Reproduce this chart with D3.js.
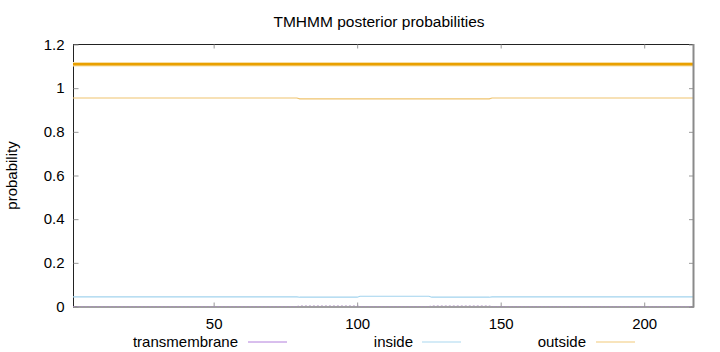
<!DOCTYPE html>
<html>
<head>
<meta charset="utf-8">
<script src="https://cdn.jsdelivr.net/npm/d3@7"></script>
<style>
  html, body { margin: 0; padding: 0; background: #fff; }
  svg { display: block; }
  text { font-family: "Liberation Sans", Arial, sans-serif; fill: #000; }
</style>
</head>
<body>
<svg id="chart" width="720" height="352"></svg>
<script>
// ---- data ----
const title = "TMHMM posterior probabilities";
const yLabel = "probability";
const xTicks = [50, 100, 150, 200];
const yTicks = [0, 0.2, 0.4, 0.6, 0.8, 1, 1.2];
const yTickLabels = ["0", "0.2", "0.4", "0.6", "0.8", "1", "1.2"];
const seqStart = 1;
const seqEnd = 217;

// breakpoints (sequence position) and per-series values at those positions
const positions      = [1,     79,    80,    100,   101,   125,   126,   146,   147,   217];
const transmembrane  = [0.000, 0.000, 0.003, 0.003, 0.000, 0.000, 0.003, 0.003, 0.000, 0.000];
const inside         = [0.0445,0.0445,0.0425,0.0425,0.047, 0.047, 0.0425,0.0425,0.0445,0.0445];
const outside        = [0.955, 0.955, 0.951, 0.951, 0.951, 0.951, 0.951, 0.951, 0.955, 0.955];
// predicted topology bar (outside over the whole sequence)
const topologyStart = [1];
const topologyEnd = [217];
const topologyLevel = 1.11;

const seriesNames = ["transmembrane", "inside", "outside"];
const seriesColors = ["#b27fdc", "#a9d7ef", "#f1c979"];
const lineColors = ["#a98abf", "#a3d4ee", "#efc36e"];

// ---- layout ----
const svg = d3.select("#chart");
const pLeft = 73, pRight = 693, pTop = 44.5, pBottom = 306.5;
const fontSize = "15px";

const x = d3.scaleLinear().domain([seqStart, seqEnd]).range([pLeft, pRight]);
const y = d3.scaleLinear().domain([0, 1.2]).range([pBottom, pTop]);

// title
svg.append("text")
  .attr("x", 379).attr("y", 27)
  .attr("text-anchor", "middle")
  .style("font-size", "15.5px")
  .text(title);

// y label
svg.append("text")
  .attr("transform", `translate(17,${(pTop + pBottom) / 2}) rotate(-90)`)
  .attr("text-anchor", "middle")
  .style("font-size", fontSize)
  .text(yLabel);

// frame
const g = svg.append("g");
g.append("line").attr("x1", pLeft).attr("x2", pRight).attr("y1", pTop).attr("y2", pTop)
  .attr("stroke", "#222").attr("stroke-width", 1);
g.append("line").attr("x1", pLeft + 0.5).attr("x2", pLeft + 0.5).attr("y1", pTop).attr("y2", pBottom + 1)
  .attr("stroke", "#222").attr("stroke-width", 1);

// axes via d3 (ticks inward)
const yAxis = d3.axisLeft(y).tickValues(yTicks)
  .tickFormat((d, i) => yTickLabels[i]).tickSize(-5).tickPadding(9);
const yAxisG = svg.append("g").attr("transform", `translate(${pLeft + 0.5},0)`).call(yAxis);
yAxisG.select(".domain").remove();
yAxisG.selectAll(".tick line").attr("stroke", "#999");
yAxisG.selectAll(".tick text").style("font-size", fontSize)
  .style("font-family", '"Liberation Sans", Arial, sans-serif').attr("fill", "#000");

const yAxisR = d3.axisRight(y).tickValues(yTicks).tickFormat("").tickSize(-4);
const yAxisRG = svg.append("g").attr("transform", `translate(${pRight},0)`).call(yAxisR);
yAxisRG.select(".domain").remove();
yAxisRG.selectAll(".tick line").attr("stroke", "#999");

const xAxis = d3.axisBottom(x).tickValues(xTicks).tickSize(-4).tickPadding(12);
const xAxisG = svg.append("g").attr("transform", `translate(0,${pBottom})`).call(xAxis);
xAxisG.select(".domain").remove();
xAxisG.selectAll(".tick line").attr("stroke", "#999");
xAxisG.selectAll(".tick text").style("font-size", fontSize)
  .style("font-family", '"Liberation Sans", Arial, sans-serif').attr("fill", "#000");

const xAxisT = d3.axisTop(x).tickValues(xTicks).tickFormat("").tickSize(-4);
const xAxisTG = svg.append("g").attr("transform", `translate(0,${pTop})`).call(xAxisT);
xAxisTG.select(".domain").remove();
xAxisTG.selectAll(".tick line").attr("stroke", "#999");

// data lines
const seriesData = [transmembrane, inside, outside];
const line = d3.line().x(d => x(d[0])).y(d => y(d[1]));

seriesData.forEach((vals, i) => {
  if (i === 0) return;
  const pts = positions.map((p, k) => [p, vals[k]]);
  svg.append("path").datum(pts)
    .attr("fill", "none")
    .attr("stroke", lineColors[i])
    .attr("stroke-width", 1.2)
    .attr("d", line);
});

// topology bar
topologyStart.forEach((s, i) => {
  const pts = [[s, topologyLevel], [topologyEnd[i], topologyLevel]];
  svg.append("path").datum(pts)
    .attr("fill", "none").attr("stroke", "#f6dfa8").attr("stroke-width", 4.5).attr("d", line);
  svg.append("path").datum(pts)
    .attr("fill", "none").attr("stroke", "#e9a000").attr("stroke-width", 2.5).attr("d", line);
});

// bottom/right border (grey)
svg.append("line").attr("x1", pLeft).attr("x2", pRight + 1).attr("y1", pBottom + 0.5).attr("y2", pBottom + 0.5)
  .attr("stroke", "#808080").attr("stroke-width", 1.6);
svg.append("line").attr("x1", pRight + 0.5).attr("x2", pRight + 0.5).attr("y1", pTop - 0.5).attr("y2", pBottom + 1)
  .attr("stroke", "#8a8a8a").attr("stroke-width", 2);

// transmembrane (lies on the x axis)
{
  const pts = positions.map((p, k) => [p, transmembrane[k]]);
  svg.append("path").datum(pts)
    .attr("fill", "none")
    .attr("stroke", lineColors[0])
    .attr("stroke-width", 1)
    .attr("stroke-dasharray", "2,2")
    .attr("stroke-opacity", 0.7)
    .attr("d", line);
}

// legend
const legendTextEnd = [238, 413, 586];
const legendLineStart = [248, 422, 596];
const legendLen = 39;
seriesNames.forEach((name, i) => {
  svg.append("text")
    .attr("x", legendTextEnd[i]).attr("y", 347)
    .attr("text-anchor", "end")
    .style("font-size", fontSize)
    .text(name);
  svg.append("line")
    .attr("x1", legendLineStart[i]).attr("x2", legendLineStart[i] + legendLen)
    .attr("y1", 342).attr("y2", 342)
    .attr("stroke", seriesColors[i]).attr("stroke-width", 1);
});
</script>
</body>
</html>
